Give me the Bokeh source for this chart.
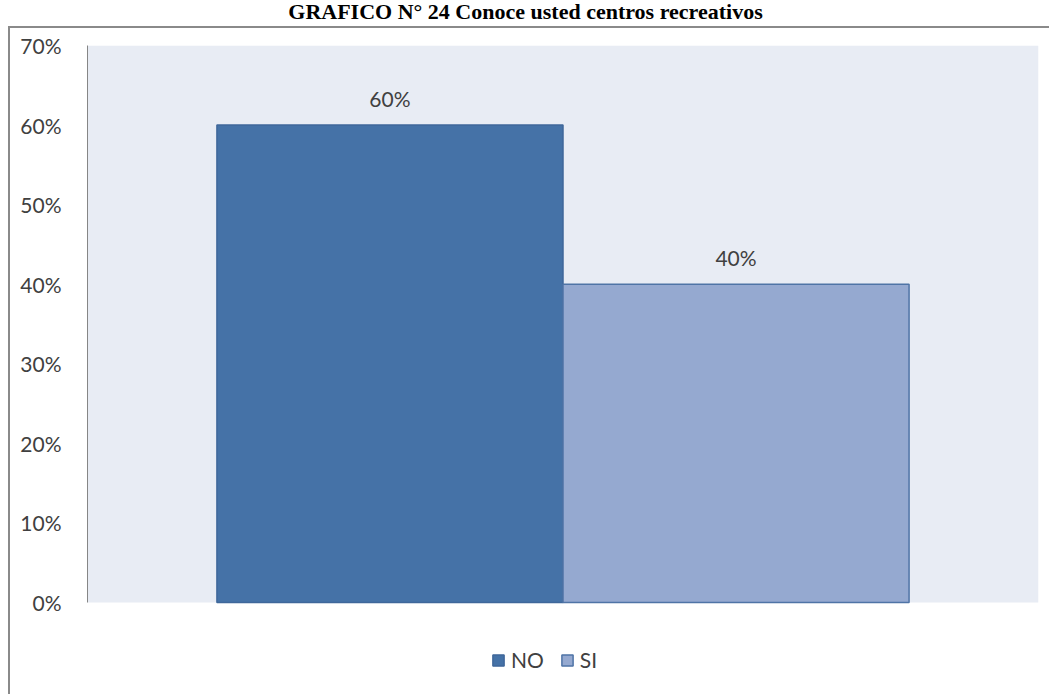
from bokeh.plotting import figure
from bokeh.models import (FactorRange, Range1d, NumeralTickFormatter, FixedTicker,
                          Legend, LegendItem, ColumnDataSource, Div, BoxAnnotation)
from bokeh.layouts import column
from bokeh.core.properties import value
from bokeh.embed import file_html
from bokeh.resources import INLINE

# ---- data ----
categories = ["NO", "SI"]
values = [0.60, 0.40]
labels = ["60%", "40%"]
colors = ["#4572A7", "#95A9D0"]
edge_colors = ["#3F679A", "#4F74A6"]
y_ticks = [0.0, 0.1, 0.2, 0.3, 0.4, 0.5, 0.6, 0.7]
y_min, y_max = 0.0, 0.7
title_text = "GRAFICO N° 24 Conoce usted centros recreativos"

FONT = "Lato, sans-serif"

src = ColumnDataSource(dict(x=categories, top=values, lab=labels,
                            color=colors, edge=edge_colors))

# frame extends below the value axis to hold the legend (legend inside frame)
p = figure(width=1041, height=668, output_backend="svg", toolbar_location=None,
           x_range=FactorRange(*categories, range_padding=0.374),
           y_range=Range1d(-0.11813, y_max),
           min_border_left=77, min_border_right=13, min_border_top=17, min_border_bottom=0,
           margin=(0, 0, 0, 8),
           styles={"border-top": "2px solid #8A8A8A", "border-left": "2px solid #8A8A8A"})

p.background_fill_color = "white"
p.border_fill_color = "white"
p.outline_line_color = None
p.xgrid.visible = False
p.ygrid.visible = False
p.xaxis.visible = False

# plot-area background (0%..70%)
p.add_layout(BoxAnnotation(bottom=y_min, top=y_max, fill_color="#E8ECF4", fill_alpha=1,
                           line_color=None, level="underlay"))

ya = p.yaxis[0]
ya.ticker = FixedTicker(ticks=y_ticks)
ya.bounds = (y_min, y_max)
ya.formatter = NumeralTickFormatter(format="0%")
ya.major_tick_line_color = None
ya.minor_tick_line_color = None
ya.axis_line_color = "#868686"
ya.axis_line_width = 1
ya.major_label_standoff = 20
ya.major_label_text_font = FONT
ya.major_label_text_font_size = "21px"
ya.major_label_text_color = "#404040"

r = p.vbar(x="x", top="top", bottom=0, width=1.0, source=src, fill_color="color",
           line_color="edge", line_width=1.5)

p.text(x="x", y="top", text="lab", source=src, text_align="center",
       text_baseline="bottom", y_offset=-14, text_font=value(FONT),
       text_font_size="21px", text_color="#404040")

legend = Legend(items=[LegendItem(label=c, renderers=[r], index=i) for i, c in enumerate(categories)],
                orientation="horizontal", location=(404, 24),
                label_text_font=FONT, label_text_font_size="21px",
                label_text_color="#404040", glyph_width=14, glyph_height=14,
                spacing=16, label_standoff=6, border_line_color=None,
                background_fill_alpha=0, padding=0, margin=0)
p.add_layout(legend)

title = Div(text=title_text, width=1051, height=26, margin=(0, 0, 0, 0),
            styles={"text-align": "center", "width": "1051px",
                    "font-family": "'Liberation Serif', 'Times New Roman', serif",
                    "font-weight": "bold", "font-size": "22px", "color": "black",
                    "line-height": "24px"})

layout = column(title, p, spacing=0)

open("out.html", "w").write(file_html(layout, INLINE))
